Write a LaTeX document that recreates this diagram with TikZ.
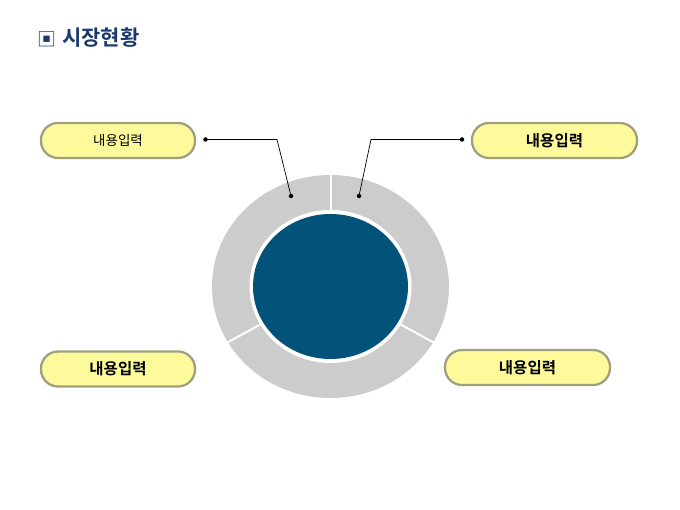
\documentclass[tikz,border=0pt]{standalone}
\usepackage{fontspec}
\usetikzlibrary{calc,shapes.geometric}
\newfontfamily\kr{Noto Sans CJK KR}
\newfontfamily\krb{Noto Sans CJK KR Bold}
\definecolor{navy}{HTML}{1B3A6B}
\definecolor{ringgray}{HTML}{CCCCCC}
\definecolor{coreblue}{HTML}{02527A}
\definecolor{boxfill}{HTML}{FDFA9C}
\definecolor{boxline}{HTML}{A09F80}
\tikzset{
  labelbox/.style={draw=boxline, line width=2.3pt, fill=boxfill, rounded corners=17pt,
    minimum width=152pt, minimum height=35pt, inner sep=0pt, font=\krb\fontsize{15.5}{15.5}\selectfont},
  dotend/.style={circle, fill=black, inner sep=0pt, minimum size=4.5pt},
  leader/.style={draw=black, line width=0.7pt},
  divider/.style={draw=white, line width=2pt}
}
\begin{document}
\begin{tikzpicture}[x=1pt,y=-1pt]
\useasboundingbox (0,0) rectangle (680,510);
% title
\node[anchor=west, inner sep=0pt, text=navy, font=\kr\fontsize{19}{19}\selectfont] (icon) at (37,39) {▣};
\node[anchor=west, inner sep=0pt, text=navy, font=\krb\fontsize{21}{21}\selectfont] (title) at (62,38) {시장현황};
% ring
\coordinate (c) at (330.5,286.5);
\fill[ringgray] (c) ellipse [x radius=118.5pt, y radius=111.5pt];
\foreach \a in {90,210,330}{
  \draw[divider] ($(c)+({80*cos(\a)},{-75*sin(\a)})$) -- ($(c)+({119*cos(\a)},{-112*sin(\a)})$);
}
\fill[white] (c) ellipse [x radius=81pt, y radius=76.5pt];
\node[ellipse, fill=coreblue, minimum width=155pt, minimum height=145pt, inner sep=0pt] (core) at (c) {};
% boxes
\node[labelbox, minimum width=154pt, font=\kr\fontsize{13.5}{13.5}\selectfont] (b1) at (118,140.5) {내용입력};
\node[labelbox, minimum width=165pt] (b2) at (554.5,140.5) {내용입력};
\node[labelbox, minimum width=154pt] (b3) at (118,369) {내용입력};
\node[labelbox, minimum width=165pt] (b4) at (527.5,367.5) {내용입력};
% leaders
\coordinate (d1) at (205.5,139.5);
\coordinate (k1) at (277,139.5);
\coordinate (e1) at (291,196);
\coordinate (d2) at (462,139.5);
\coordinate (k2) at (371,139.5);
\coordinate (e2) at (359,196);
\draw[leader] (d1) -- (k1) -- (e1);
\draw[leader] (d2) -- (k2) -- (e2);
\foreach \p in {d1,e1,d2,e2}{ \node[dotend] at (\p) {}; }
\end{tikzpicture}
\end{document}
